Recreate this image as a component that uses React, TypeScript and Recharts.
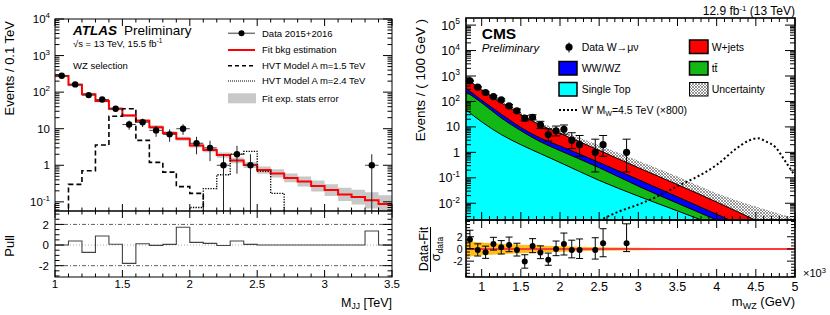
import React from 'react';
import { ComposedChart, Line, Area, Scatter, ErrorBar, XAxis, YAxis, ReferenceLine } from 'recharts';

const FONT = '"Liberation Sans", Arial, Helvetica, sans-serif';
const EMPTY = 1e-3; // empty bin on a log axis -> falls below the frame and is clipped

// ---------------- ATLAS (left), bins of 0.1 TeV ----------------
const atlasEdges = [1.0, 1.1, 1.2, 1.3, 1.4, 1.5, 1.6, 1.7, 1.8, 1.9, 2.0, 2.1, 2.2, 2.3, 2.4, 2.5, 2.6, 2.7, 2.8, 2.9, 3.0, 3.1, 3.2, 3.3, 3.4, 3.5];
const atlasFit = [277, 158, 87, 57, 35, 23, 16.6, 11, 7.6, 5.3, 3.5, 2.6, 1.9, 1.35, 1.02, 0.74, 0.6, 0.45, 0.36, 0.27, 0.21, 0.16, 0.135, 0.11, 0.087];
const atlasFitErrDex = [0.035, 0.035, 0.035, 0.035, 0.04, 0.04, 0.045, 0.05, 0.05, 0.055, 0.06, 0.06, 0.07, 0.075, 0.08, 0.1, 0.11, 0.12, 0.14, 0.15, 0.16, 0.18, 0.2, 0.22, 0.24];
const atlasHvt15 = [EMPTY, 0.3, 0.71, 3.6, 22, 35, 4.8, 1.2, 0.65, 0.26, 0.17, EMPTY, EMPTY, EMPTY, EMPTY, EMPTY, EMPTY, EMPTY, EMPTY, EMPTY, EMPTY, EMPTY, EMPTY, EMPTY, EMPTY];
const atlasHvt24 = [EMPTY, EMPTY, EMPTY, EMPTY, EMPTY, EMPTY, EMPTY, EMPTY, EMPTY, EMPTY, 0.07, 0.23, 0.55, 2.0, 2.4, 0.68, 0.17, EMPTY, EMPTY, EMPTY, EMPTY, EMPTY, EMPTY, EMPTY, EMPTY];
const atlasPull = [0, 0.39, -0.71, 0.87, 0.07, -1.78, 0.13, -0.03, 0.06, 1.72, 0.26, 0.16, -0.05, 0.39, 0.06, 0, 0, 0, 0, 0, 0, 0, 0, 1.36, 0];

const atlasDataX = [1.05, 1.15, 1.25, 1.35, 1.45, 1.55, 1.65, 1.75, 1.85, 1.95, 2.05, 2.15, 2.25, 2.35, 2.45, 3.35];
const atlasDataN = [280, 163, 83, 63, 35, 13, 15, 9, 7, 10, 4, 3, 1, 2, 1, 1];
const atlasDataErr = [[16.7, 16.7], [12.8, 12.8], [9.1, 9.1], [7.9, 7.9], [5.9, 5.9], [3.6, 3.6], [3.9, 3.9], [3, 3], [2.6, 2.6], [3.2, 3.2], [2, 2], [1.7, 1.7], [0.99, 1], [1.41, 1.41], [0.99, 1], [0.99, 1]];
const atlasHalfBin = 0.05;

const atlasXMajor = [1, 1.5, 2, 2.5, 3, 3.5];
const atlasXLabels = ['1', '1.5', '2', '2.5', '3', '3.5'];
const atlasYMajor = [0.1, 1, 10, 100, 1000, 10000];
const atlasYLabels = ['10^-1', '1', '10', '10^2', '10^3', '10^4'];
const atlasPullMajor = [-2, 0, 2];
const atlasPullLabels = ['-2', '0', '2'];

// ---------------- CMS (right), GeV ----------------
const cmsGrid = [800, 1000, 1250, 1500, 1750, 2000, 2500, 3000, 3500, 4000, 4500, 5000];
// cumulative stack tops
const cmsWjetsTop = [832, 282, 89, 30, 11.7, 5.6, 1.2, 0.25, 0.054, 0.0112, 0.00214, 0.00045];
const cmsVVTop = [331, 112, 31.6, 9.5, 3.6, 1.78, 0.4, 0.085, 0.0178, 0.0037, 0.00079, 0.00016];
const cmsTTTop = [240, 89, 22.4, 7.1, 2.6, 1.17, 0.25, 0.047, 0.01, 0.0022, 0.00048, 0.0001];
const cmsSingleTop = [47, 15.8, 5.0, 2.0, 0.89, 0.4, 0.079, 0.019, 0.005, 0.0013, 0.00035, 0.0001];
const cmsUncTop = [933, 316, 105, 36, 14.8, 7.4, 1.9, 0.47, 0.112, 0.025, 0.0074, 0.0025];

const cmsSigX = [2500, 2750, 3000, 3250, 3500, 3750, 4000, 4250, 4400, 4525, 4625, 4750, 4875, 5000];
const cmsSigY = [0.0021, 0.0047, 0.0089, 0.019, 0.047, 0.11, 0.32, 1.4, 2.8, 3.6, 2.7, 1.6, 0.45, 0.12];

const cmsDataX = [850, 950, 1050, 1150, 1250, 1350, 1450, 1550, 1650, 1750, 1850, 1950, 2050, 2150, 2250, 2450, 2550, 2850];
const cmsDataN = [650, 365, 225, 155, 115, 67, 43, 22, 24, 12, 5, 7, 8, 3, 2, 1, 2, 1];
const cmsDataErr = [[25.5, 26.5], [19.1, 20.1], [15, 16], [12.4, 13.5], [10.7, 11.7], [8.2, 9.2], [6.5, 7.6], [4.7, 5.8], [4.9, 6.0], [3.4, 4.6], [2.2, 3.4], [2.6, 3.8], [2.8, 3.9], [1.6, 2.9], [1.3, 2.6], [0.83, 2.3], [1.3, 2.6], [0.83, 2.3]];
const cmsPull = [1.57, -0.16, -0.54, 0.81, 0.27, 0.65, -0.16, -2.05, 0.49, -0.59, -1.78, 0, 0.81, -0.16, -0.16, -0.16, 0.92, 0.92];
const cmsPullErr = [[1.5, 1.5], [1, 1], [1, 1], [1, 1.1], [1.1, 1.1], [1.1, 1.3], [1, 1.1], [1.1, 1.1], [1.1, 1.2], [1, 1.1], [0.9, 1.1], [1.1, 1.3], [1.8, 1.8], [1.3, 1.6], [1.4, 1.8], [1.5, 2], [2.2, 2.4], [1.35, 3.2]];
const cmsBandX = [800, 1000, 1250, 1500, 2000, 2500, 3000, 3500, 4000, 5000];
const cmsBandHalf = [1.35, 1.05, 0.85, 0.7, 0.45, 0.3, 0.2, 0.12, 0.06, 0.02];

const cmsXMajor = [1000, 1500, 2000, 2500, 3000, 3500, 4000, 4500, 5000];
const cmsXLabels = ['1', '1.5', '2', '2.5', '3', '3.5', '4', '4.5', '5'];
const cmsYMajor = [0.01, 0.1, 1, 10, 100, 1000, 10000, 100000];
const cmsYLabels = ['10^-2', '10^-1', '1', '10', '10^2', '10^3', '10^4', '10^5'];
const cmsPullMajor = [-2, 0, 2];
const cmsPullLabels = ['-2', '0', '2'];

// ---------------- layout ----------------
type Box = { L: number; T: number; W: number; H: number; l: number; t: number; r: number; b: number };
const ATLAS_TOP: Box = { L: 0, T: 0, W: 400, H: 214, l: 55, t: 19, r: 392, b: 211 };
const ATLAS_PULL: Box = { L: 0, T: 205, W: 400, H: 110, l: 55, t: 211, r: 392, b: 277 };
const CMS_TOP: Box = { L: 410, T: 0, W: 420, H: 223, l: 466, t: 18, r: 795, b: 220 };
const CMS_PULL: Box = { L: 410, T: 214, W: 420, H: 101, l: 466, t: 220, r: 795, b: 277 };
const Y_W = 40;
const X_H = 1;

const inner = (bx: Box) => ({ l: bx.l - bx.L, t: bx.t - bx.T, r: bx.r - bx.L, b: bx.b - bx.T });
const marginOf = (bx: Box) => {
  const p = inner(bx);
  return { left: p.l - Y_W, top: p.t, right: bx.W - p.r, bottom: bx.H - p.b - X_H };
};

const logTicks = (lo: number, hi: number) => {
  const out: number[] = [];
  for (let d = Math.floor(Math.log10(lo)); d <= Math.ceil(Math.log10(hi)); d++) {
    for (let k = 1; k <= 9; k++) {
      const v = k * Math.pow(10, d);
      if (v >= lo && v <= hi) out.push(v);
    }
  }
  return out;
};
const linTicks = (lo: number, hi: number, step: number) => {
  const out: number[] = [];
  for (let i = Math.ceil(lo / step - 1e-9); i * step <= hi + 1e-9; i++) out.push(Math.round(i * step * 1e6) / 1e6);
  return out;
};

const supText = (s: string, fs: number, sup: number) => {
  const [base, exp] = s.split('^');
  if (!exp) return base;
  return (
    <>
      {base}
      <tspan dy={-fs * 0.42} fontSize={sup}>{exp}</tspan>
    </>
  );
};

const findMajor = (majors: number[], v: number, log: boolean) =>
  majors.findIndex((m) => (log ? Math.abs(Math.log10(m) - Math.log10(v)) < 1e-6 : Math.abs(m - v) < 1e-6));

type TickCfg = { majors: number[]; labels?: string[]; log?: boolean; maj: number; min: number; fs: number; sup?: number; gap: number; sw?: number };

// ROOT style: ticks inside the frame, mirrored on the opposite side
const yTick = (bx: Box, c: TickCfg) => (props: any) => {
  const p = inner(bx);
  const y = props.y;
  const v = props.payload.value;
  const idx = findMajor(c.majors, v, !!c.log);
  const len = idx >= 0 ? c.maj : c.min;
  return (
    <g>
      <line x1={p.l} x2={p.l + len} y1={y} y2={y} stroke="#000" strokeWidth={c.sw || 1} />
      <line x1={p.r} x2={p.r - len} y1={y} y2={y} stroke="#000" strokeWidth={c.sw || 1} />
      {idx >= 0 && c.labels && (
        <text x={p.l - c.gap} y={y + c.fs * 0.36} textAnchor="end" fontSize={c.fs} fontFamily={FONT} fill="#000">
          {supText(c.labels[idx], c.fs, c.sup || c.fs * 0.7)}
        </text>
      )}
    </g>
  );
};

const xTick = (bx: Box, c: TickCfg) => (props: any) => {
  const p = inner(bx);
  const x = props.x;
  const v = props.payload.value;
  const idx = findMajor(c.majors, v, false);
  const len = idx >= 0 ? c.maj : c.min;
  return (
    <g>
      <line x1={x} x2={x} y1={p.b} y2={p.b - len} stroke="#000" strokeWidth={c.sw || 1} />
      <line x1={x} x2={x} y1={p.t} y2={p.t + len} stroke="#000" strokeWidth={c.sw || 1} />
      {idx >= 0 && c.labels && (
        <text x={x} y={p.b + c.gap} textAnchor="middle" fontSize={c.fs} fontFamily={FONT} fill="#000">
          {c.labels[idx]}
        </text>
      )}
    </g>
  );
};

const dot = (r: number) => (p: any) => <circle cx={p.cx} cy={p.cy} r={r} fill="#000" />;

// ---------------- derived rows ----------------
const stepRows = (vals: number[]) => atlasEdges.map((x, i) => ({ x, v: vals[Math.min(i, vals.length - 1)] }));
const atlasFitRows = stepRows(atlasFit);
const atlasBandRows = atlasEdges.map((x, i) => {
  const j = Math.min(i, atlasFit.length - 1);
  const k = Math.pow(10, atlasFitErrDex[j]);
  return { x, band: [atlasFit[j] / k, atlasFit[j] * k] };
});
const atlasHvt15Rows = stepRows(atlasHvt15);
const atlasHvt24Rows = stepRows(atlasHvt24);
const atlasPullRows = stepRows(atlasPull);
const atlasDataRows = atlasDataX.map((x, i) => ({ x, y: atlasDataN[i], yerr: atlasDataErr[i], xerr: atlasHalfBin }));

const cmsStackRows = cmsGrid.map((x, i) => ({
  x,
  unc: cmsUncTop[i],
  wj: cmsWjetsTop[i],
  vv: cmsVVTop[i],
  tt: cmsTTTop[i],
  st: cmsSingleTop[i],
}));
const cmsSigRows = cmsSigX.map((x, i) => ({ x, v: cmsSigY[i] }));
const cmsDataRows = cmsDataX.map((x, i) => ({ x, y: cmsDataN[i], yerr: cmsDataErr[i] }));
const cmsPullRows = cmsDataX.map((x, i) => ({ x, y: cmsPull[i], yerr: cmsPullErr[i] }));
const cmsBandRows = cmsBandX.map((x, i) => ({ x, band: [-cmsBandHalf[i], cmsBandHalf[i]] }));

const A_X: [number, number] = [1, 3.5];
const A_Y: [number, number] = [0.0562, 10000];
const A_PY: [number, number] = [-3.1, 3.3];
const C_X: [number, number] = [800, 5000];
const C_Y: [number, number] = [0.0022, 190000];
const C_PY: [number, number] = [-4.6, 4.75];

const place = (bx: Box): React.CSSProperties => ({ position: 'absolute', left: bx.L, top: bx.T });

function AtlasTop() {
  const bx = ATLAS_TOP;
  return (
    <div style={place(bx)}>
      <ComposedChart width={bx.W} height={bx.H} margin={marginOf(bx)}>
        <Area data={atlasBandRows} dataKey="band" type="stepAfter" fill="#c8c8c8" fillOpacity={1} stroke="none" isAnimationActive={false} />
        <Line data={atlasFitRows} dataKey="v" type="stepAfter" stroke="#ff0000" strokeWidth={2} dot={false} isAnimationActive={false} />
        <Line data={atlasHvt15Rows} dataKey="v" type="stepAfter" stroke="#000" strokeWidth={1.6} strokeDasharray="5 3" dot={false} isAnimationActive={false} />
        <Line data={atlasHvt24Rows} dataKey="v" type="stepAfter" stroke="#000" strokeWidth={1.3} strokeDasharray="1.3 1.3" dot={false} isAnimationActive={false} />
        <Scatter data={atlasDataRows} dataKey="y" shape={dot(3.2)} isAnimationActive={false}>
          <ErrorBar dataKey="yerr" direction="y" width={0} stroke="#222" strokeWidth={1} isAnimationActive={false} />
          <ErrorBar dataKey="xerr" direction="x" width={0} stroke="#444" strokeWidth={1} isAnimationActive={false} />
        </Scatter>
        <XAxis type="number" dataKey="x" domain={A_X} allowDataOverflow ticks={linTicks(1, 3.5, 0.1)} interval={0} height={X_H}
          tickLine={false} axisLine={false} tick={xTick(bx, { majors: atlasXMajor, maj: 7, min: 3.5, fs: 11.5, gap: 0 })} />
        <YAxis type="number" scale="log" domain={A_Y} allowDataOverflow ticks={logTicks(A_Y[0], A_Y[1])} interval={0} width={Y_W}
          tickLine={false} axisLine={false}
          tick={yTick(bx, { majors: atlasYMajor, labels: atlasYLabels, log: true, maj: 9, min: 4.5, fs: 11.5, sup: 8, gap: 5 })} />
      </ComposedChart>
    </div>
  );
}

function AtlasPull() {
  const bx = ATLAS_PULL;
  return (
    <div style={place(bx)}>
      <ComposedChart width={bx.W} height={bx.H} margin={marginOf(bx)}>
        <ReferenceLine y={2} stroke="#333" strokeWidth={0.8} strokeDasharray="4 2 1 2" />
        <ReferenceLine y={-2} stroke="#333" strokeWidth={0.8} strokeDasharray="4 2 1 2" />
        <ReferenceLine y={0} stroke="#999" strokeWidth={0.8} strokeDasharray="1 2" />
        <Line data={atlasPullRows} dataKey="v" type="stepAfter" stroke="#444" strokeWidth={1.1} dot={false} isAnimationActive={false} />
        <XAxis type="number" dataKey="x" domain={A_X} allowDataOverflow ticks={linTicks(1, 3.5, 0.1)} interval={0} height={X_H}
          tickLine={false} axisLine={false}
          tick={xTick(bx, { majors: atlasXMajor, labels: atlasXLabels, maj: 7, min: 3.5, fs: 11.5, gap: 11 })} />
        <YAxis type="number" domain={A_PY} allowDataOverflow ticks={linTicks(-3, 3, 0.5)} interval={0} width={Y_W}
          tickLine={false} axisLine={false}
          tick={yTick(bx, { majors: atlasPullMajor, labels: atlasPullLabels, maj: 9, min: 4.5, fs: 11.5, gap: 6 })} />
      </ComposedChart>
    </div>
  );
}

function CmsTop() {
  const bx = CMS_TOP;
  return (
    <div style={place(bx)}>
      <ComposedChart width={bx.W} height={bx.H} margin={marginOf(bx)}>
        <Area data={cmsStackRows} dataKey="unc" type="monotone" fill="url(#xhatch)" fillOpacity={1} stroke="none" isAnimationActive={false} />
        <Area data={cmsStackRows} dataKey="wj" type="monotone" fill="#ff0000" fillOpacity={1} stroke="#000" strokeWidth={1} isAnimationActive={false} />
        <Area data={cmsStackRows} dataKey="vv" type="monotone" fill="#0000ff" fillOpacity={1} stroke="#000" strokeWidth={1} isAnimationActive={false} />
        <Area data={cmsStackRows} dataKey="tt" type="monotone" fill="#14b814" fillOpacity={1} stroke="#000" strokeWidth={1} isAnimationActive={false} />
        <Area data={cmsStackRows} dataKey="st" type="monotone" fill="#00ffff" fillOpacity={1} stroke="#000" strokeWidth={1} isAnimationActive={false} />
        <Line data={cmsSigRows} dataKey="v" type="monotone" stroke="#000" strokeWidth={2} strokeDasharray="2 2.5" dot={false} isAnimationActive={false} />
        <Scatter data={cmsDataRows} dataKey="y" shape={dot(3.6)} isAnimationActive={false}>
          <ErrorBar dataKey="yerr" direction="y" width={4} stroke="#000" strokeWidth={1} isAnimationActive={false} />
        </Scatter>
        <XAxis type="number" dataKey="x" domain={C_X} allowDataOverflow ticks={linTicks(800, 5000, 100)} interval={0} height={X_H}
          tickLine={false} axisLine={false} tick={xTick(bx, { majors: cmsXMajor, maj: 8, min: 4, fs: 12.5, gap: 0 })} />
        <YAxis type="number" scale="log" domain={C_Y} allowDataOverflow ticks={logTicks(C_Y[0], C_Y[1])} interval={0} width={Y_W}
          tickLine={false} axisLine={false}
          tick={yTick(bx, { majors: cmsYMajor, labels: cmsYLabels, log: true, maj: 10, min: 5, fs: 12.5, sup: 8.5, gap: 6 })} />
      </ComposedChart>
    </div>
  );
}

function CmsPull() {
  const bx = CMS_PULL;
  return (
    <div style={place(bx)}>
      <ComposedChart width={bx.W} height={bx.H} margin={marginOf(bx)}>
        <Area data={cmsBandRows} dataKey="band" type="monotone" fill="#ffbf1a" fillOpacity={1} stroke="none" isAnimationActive={false} />
        <ReferenceLine y={0} stroke="#ff3b3b" strokeWidth={2} />
        <Scatter data={cmsPullRows} dataKey="y" shape={dot(3)} isAnimationActive={false}>
          <ErrorBar dataKey="yerr" direction="y" width={3.5} stroke="#000" strokeWidth={1} isAnimationActive={false} />
        </Scatter>
        <XAxis type="number" dataKey="x" domain={C_X} allowDataOverflow ticks={linTicks(800, 5000, 100)} interval={0} height={X_H}
          tickLine={false} axisLine={false}
          tick={xTick(bx, { majors: cmsXMajor, labels: cmsXLabels, maj: 8, min: 4, fs: 12.5, gap: 13.5 })} />
        <YAxis type="number" domain={C_PY} allowDataOverflow ticks={linTicks(-4.5, 4.5, 0.5)} interval={0} width={Y_W}
          tickLine={false} axisLine={false}
          tick={yTick(bx, { majors: cmsPullMajor, labels: cmsPullLabels, maj: 8, min: 4, fs: 10.5, gap: 3.5 })} />
      </ComposedChart>
    </div>
  );
}

function Overlay() {
  const t = { fontFamily: FONT, fill: '#000' } as const;
  return (
    <svg width={830} height={315} style={{ position: 'absolute', left: 0, top: 0, pointerEvents: 'none', zIndex: 5 }}>
      {/* frames */}
      <rect x={55} y={19} width={337} height={192} fill="none" stroke="#000" strokeWidth={1} />
      <rect x={55} y={211} width={337} height={66} fill="none" stroke="#000" strokeWidth={1} />
      <rect x={466} y={18} width={329} height={202} fill="none" stroke="#000" strokeWidth={1.6} />
      <rect x={466} y={220} width={329} height={57} fill="none" stroke="#000" strokeWidth={1.6} />

      {/* ATLAS titles */}
      <text {...t} x={14} y={21} fontSize={13} textAnchor="end" transform="rotate(-90 14 21)">Events / 0.1 TeV</text>
      <text {...t} x={14} y={235} fontSize={13} textAnchor="end" transform="rotate(-90 14 235)">Pull</text>
      <text {...t} x={392} y={306.5} fontSize={12.5} textAnchor="end">
        M<tspan fontSize={8.5} dy={2.5}>JJ</tspan><tspan dy={-2.5}> [TeV]</tspan>
      </text>
      <text {...t} x={73} y={35} fontSize={13.5} fontWeight="bold" fontStyle="italic">ATLAS</text>
      <text {...t} x={124} y={35} fontSize={13.5}>Preliminary</text>
      <text {...t} x={73} y={46.7} fontSize={9.5}>
        √s = 13 TeV, 15.5 fb<tspan fontSize={6.5} dy={-4}>-1</tspan>
      </text>
      <text {...t} x={73} y={69} fontSize={9.5}>WZ selection</text>

      {/* ATLAS legend */}
      <line x1={228} x2={255} y1={33.3} y2={33.3} stroke="#777" strokeWidth={1.5} />
      <circle cx={241.5} cy={33.3} r={3} fill="#000" />
      <text {...t} x={262} y={36.6} fontSize={9.5}>Data 2015+2016</text>
      <line x1={228} x2={255} y1={50} y2={50} stroke="#ff0000" strokeWidth={2} />
      <text {...t} x={262} y={53.3} fontSize={9.5}>Fit bkg estimation</text>
      <line x1={228} x2={255} y1={65.7} y2={65.7} stroke="#000" strokeWidth={1.6} strokeDasharray="4 3" />
      <text {...t} x={262} y={69} fontSize={9.5}>HVT Model A m=1.5 TeV</text>
      <line x1={228} x2={255} y1={81} y2={81} stroke="#000" strokeWidth={1.2} strokeDasharray="1 1" />
      <text {...t} x={262} y={84.3} fontSize={9.5}>HVT Model A m=2.4 TeV</text>
      <rect x={228} y={93.3} width={28} height={10} fill="#c8c8c8" />
      <text {...t} x={262} y={101.6} fontSize={9.5}>Fit exp. stats error</text>

      {/* CMS titles */}
      <text {...t} x={425} y={19} fontSize={13.5} textAnchor="end" transform="rotate(-90 425 19)">Events / ( 100 GeV )</text>
      <text {...t} x={428} y={249} fontSize={12.5} textAnchor="middle" transform="rotate(-90 428 249)">Data-Fit</text>
      <line x1={430.5} x2={430.5} y1={227} y2={272} stroke="#000" strokeWidth={1} />
      <text {...t} x={440} y={249} fontSize={12.5} textAnchor="middle" transform="rotate(-90 440 249)">
        σ<tspan fontSize={8.5} dy={3}>data</tspan>
      </text>
      <text {...t} x={795} y={306} fontSize={13} textAnchor="end">
        m<tspan fontSize={9} dy={2.5}>WZ</tspan><tspan dy={-2.5}> (GeV)</tspan>
      </text>
      <text {...t} x={803} y={277} fontSize={11}>
        ×10<tspan fontSize={7.5} dy={-4.5}>3</tspan>
      </text>
      <text {...t} x={481.7} y={39.3} fontSize={15.5} fontWeight="bold">CMS</text>
      <text {...t} x={481.7} y={52} fontSize={11.5} fontStyle="italic">Preliminary</text>
      <text {...t} x={795} y={14.5} fontSize={12} textAnchor="end">
        12.9 fb<tspan fontSize={8} dy={-4}>-1</tspan><tspan dy={4}> (13 TeV)</tspan>
      </text>

      {/* CMS legend */}
      <line x1={569} x2={569} y1={42.5} y2={52.5} stroke="#000" strokeWidth={1} />
      <circle cx={569} cy={47.2} r={3.6} fill="#000" />
      <text {...t} x={581.7} y={50.7} fontSize={10.5}>Data W→μν</text>
      <rect x={559} y={61.5} width={18} height={13.5} fill="#0000ff" stroke="#000" strokeWidth={1.5} />
      <text {...t} x={581.7} y={72} fontSize={10.5}>WW/WZ</text>
      <rect x={559} y={82.5} width={18} height={13.5} fill="#00ffff" stroke="#000" strokeWidth={1.5} />
      <text {...t} x={581.7} y={93} fontSize={10.5}>Single Top</text>
      <line x1={559} x2={577} y1={110} y2={110} stroke="#000" strokeWidth={2} strokeDasharray="2 2" />
      <text {...t} x={581.7} y={113.8} fontSize={10.5}>
        W' M<tspan fontSize={7} dy={2.5}>W</tspan><tspan dy={-2.5}>=4.5 TeV (×800)</tspan>
      </text>
      <rect x={689.5} y={40} width={18.5} height={13.5} fill="#ff0000" stroke="#000" strokeWidth={1.5} />
      <text {...t} x={711.7} y={50.7} fontSize={10.5}>W+jets</text>
      <rect x={689.5} y={61.5} width={18.5} height={13.5} fill="#14b814" stroke="#000" strokeWidth={1.5} />
      <text {...t} x={711.7} y={72} fontSize={10.5}>tt̄</text>
      <rect x={689.5} y={82.5} width={18.5} height={13.5} fill="url(#xhatch)" stroke="#000" strokeWidth={1} />
      <text {...t} x={711.7} y={93} fontSize={10.5}>Uncertainty</text>
    </svg>
  );
}

export default function App() {
  return (
    <div style={{ position: 'absolute', left: 0, top: 0, width: 830, height: 315, background: '#fff', overflow: 'hidden', fontFamily: FONT }}>
      <svg width={0} height={0} style={{ position: 'absolute' }}>
        <defs>
          <pattern id="xhatch" width={3} height={3} patternUnits="userSpaceOnUse">
            <path d="M0,0 L3,3 M3,0 L0,3" stroke="#555" strokeWidth={0.6} />
          </pattern>
        </defs>
      </svg>
      <AtlasTop />
      <AtlasPull />
      <CmsTop />
      <CmsPull />
      <Overlay />
    </div>
  );
}
